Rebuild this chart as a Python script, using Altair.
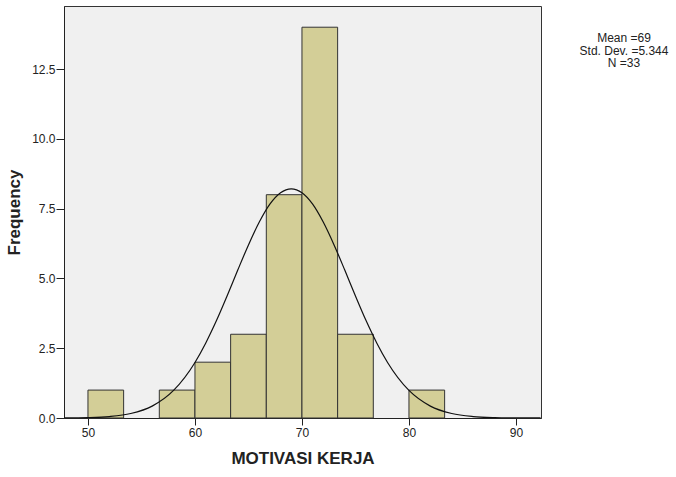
import altair as alt
import pandas as pd

# Histogram bins (MOTIVASI KERJA)
bin_start = [50.0, 56.667, 60.0, 63.333, 66.667, 70.0, 73.333, 80.0]
bin_end = [53.333, 60.0, 63.333, 66.667, 70.0, 73.333, 76.667, 83.333]
counts = [1, 1, 2, 3, 8, 14, 3, 1]

# Normal curve points
curve_x = [47.8, 50, 52, 54, 56, 58, 60, 61, 62, 63, 64, 65, 66, 67, 68, 69,
           70, 71, 72, 73, 74, 75, 76, 77, 78, 80, 82, 84, 86, 88, 90, 92.3]
curve_y = [0.003, 0.015, 0.052, 0.16, 0.426, 0.988, 1.99, 2.68, 3.48, 4.37, 5.30, 6.20,
           7.01, 7.66, 8.07, 8.21, 8.07, 7.66, 7.01, 6.20, 5.30, 4.37, 3.48, 2.68,
           1.99, 0.988, 0.426, 0.16, 0.052, 0.015, 0.004, 0.001]

x_ticks = [50, 60, 70, 80, 90]
y_ticks = [0, 2.5, 5, 7.5, 10, 12.5]
stats_text = ["Mean =69", "Std. Dev. =5.344", "N =33"]

FONT = "Liberation Sans"

bars_df = pd.DataFrame({"start": bin_start, "end": bin_end, "count": counts})
curve_df = pd.DataFrame({"x": curve_x, "y": curve_y})

xscale = alt.Scale(domain=[47.76, 92.34], nice=False, zero=False)
yscale = alt.Scale(domain=[0, 14.76], nice=False)

xaxis = alt.Axis(values=x_ticks, title="MOTIVASI KERJA", grid=False, format="d",
                 tickSize=7, tickColor="#222", domainColor="#222", labelColor="#222",
                 labelFont=FONT, labelFontSize=12, labelPadding=2,
                 titleFont=FONT, titleFontSize=17, titleFontWeight="bold",
                 titleColor="#222", titlePadding=12)
yaxis = alt.Axis(values=y_ticks, title="Frequency", grid=False, format=".1f",
                 tickSize=8, tickColor="#222", domainColor="#222", labelColor="#222",
                 labelFont=FONT, labelFontSize=12, labelPadding=1,
                 titleFont=FONT, titleFontSize=17, titleFontWeight="bold",
                 titleColor="#222", titlePadding=8)

bars = alt.Chart(bars_df).mark_rect(fill="#d3ce97", stroke="#333", strokeWidth=1).encode(
    x=alt.X("start:Q", scale=xscale, axis=xaxis),
    x2="end:Q",
    y=alt.Y("count:Q", scale=yscale, axis=yaxis),
    y2=alt.datum(0),
)

curve = alt.Chart(curve_df).mark_line(color="#111", strokeWidth=1.2, interpolate="monotone", clip=True).encode(
    x=alt.X("x:Q", scale=xscale),
    y=alt.Y("y:Q", scale=yscale),
)

# one text layer per line of the statistics box
stat_layers = [
    alt.Chart(pd.DataFrame({"t": [line]})).mark_text(
        font=FONT, fontSize=12, color="#222", align="center", baseline="middle"
    ).encode(text="t:N", x=alt.value(560), y=alt.value(32 + 12.5 * i))
    for i, line in enumerate(stats_text)
]

chart = alt.layer(bars, curve, *stat_layers).properties(
    width=477, height=412,
    autosize=alt.AutoSizeParams(type="none"),
    padding={"left": 64, "top": 6, "right": 135, "bottom": 59},
    background="white",
).configure_view(fill="#f0f0f0", stroke="#333", strokeWidth=1)

chart.save("out.html", embed_options={"renderer": "svg", "actions": False})
